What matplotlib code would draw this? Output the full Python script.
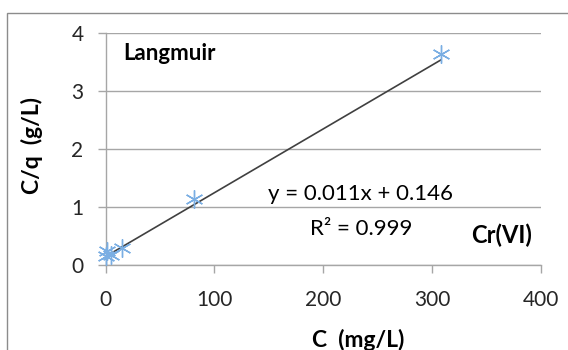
import matplotlib
matplotlib.use("Agg")
import matplotlib.pyplot as plt
from matplotlib.patches import Rectangle
import numpy as np

# Langmuir isotherm data for Cr(VI)
conc = [0.5, 1.5, 5, 15, 81, 308]                # C (mg/L)
c_over_q = [0.15, 0.24, 0.17, 0.30, 1.13, 3.63]  # C/q (g/L)
slope = 0.011
intercept = 0.146
r2 = 0.999

x_ticks = [0, 100, 200, 300, 400]
y_ticks = [0, 1, 2, 3, 4]

plt.rcParams['font.family'] = ['Lato', 'DejaVu Sans']

fig = plt.figure(figsize=(5.68, 3.5), dpi=100)
fig.patches.append(Rectangle((7 / 568, -0.1), 1.2, 1 - 13 / 350 + 0.1,
                             transform=fig.transFigure, fill=False,
                             edgecolor='#8c8c8c', linewidth=1.0))
ax = fig.add_axes([0.186, 0.243, 0.7665, 0.663])

ax.set_xlim(0, 400)
ax.set_ylim(0, 4)
ax.set_xticks(x_ticks)
ax.set_yticks(y_ticks)
ax.grid(axis='y', color='#a6a6a6', linewidth=1.0)
ax.set_axisbelow(True)
for side in ('top', 'right'):
    ax.spines[side].set_visible(False)
for side in ('left', 'bottom'):
    ax.spines[side].set_color('#a6a6a6')
    ax.spines[side].set_linewidth(1.0)
ax.tick_params(axis='both', colors='#a6a6a6', labelcolor='#262626',
               labelsize=15, length=6, width=1.0, direction='out')
ax.tick_params(axis='x', pad=12)
ax.tick_params(axis='y', pad=10)

# Linear trendline over the data range
xl = np.array([min(conc), max(conc)])
ax.plot(xl, slope * xl + intercept, color='#404040', linewidth=1.2, zorder=3)

ax.plot(conc, c_over_q, linestyle='none', marker=(6, 2, 0), markersize=13,
        markeredgewidth=1.0, markeredgecolor='#7aaee3', color='#7aaee3',
        zorder=4, clip_on=False)

ax.set_xlabel('C  (mg/L)', fontsize=16.5, fontweight='bold', va='top')
ax.xaxis.set_label_coords(0.58, -0.275)
ax.set_ylabel('C/q  (g/L)', fontsize=16.5, fontweight='bold')
ax.yaxis.set_label_coords(-0.145, 0.515)

ax.text(0.04, 0.884, 'Langmuir', transform=ax.transAxes, fontsize=16,
        fontweight='bold')
ax.text(0.372, 0.279, f'y = {slope}x + {intercept}', transform=ax.transAxes,
        fontsize=16)
ax.text(0.469, 0.129, f'R² = {r2}', transform=ax.transAxes, fontsize=16)
ax.text(0.84, 0.094, 'Cr(VI)', transform=ax.transAxes, fontsize=17,
        fontweight='bold')

fig.savefig('out.png', dpi=100)
